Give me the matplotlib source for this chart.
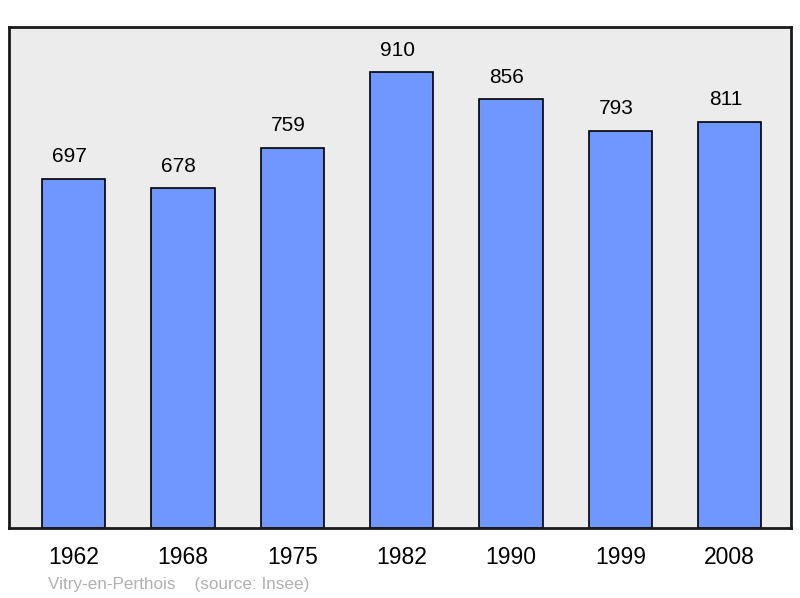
import matplotlib
matplotlib.use("Agg")
import matplotlib.pyplot as plt

# Population data
years = ["1962", "1968", "1975", "1982", "1990", "1999", "2008"]
population = [697, 678, 759, 910, 856, 793, 811]

plt.rcParams['font.family'] = ['Liberation Sans', 'DejaVu Sans']

fig = plt.figure(figsize=(8, 5.98), dpi=100)
# axes box in pixels: x 9..791, y 27..528
ax = fig.add_axes([9 / 800, 1 - 528 / 598, 782 / 800, 501 / 598])
ax.set_facecolor('#ececec')

x = list(range(len(years)))
ax.bar(x, population, width=0.58, color='#7096ff', edgecolor='black', linewidth=1.2, zorder=2)

for xi, val in zip(x, population):
    ax.annotate(str(val), (xi, val), xytext=(-3, 9), textcoords='offset points',
                ha='center', va='bottom', fontsize=15, color='black')

ax.set_xlim(-0.59, 6.56)
ax.set_ylim(0, 1000)
ax.set_yticks([])
ax.set_xticks(x)
ax.set_xticklabels(years, fontsize=16.5)
ax.tick_params(axis='x', length=0, pad=13)

for side in ax.spines.values():
    side.set_linewidth(2)
    side.set_color('#1a1a1a')

fig.text(48 / 800, 1 - 584 / 598, "Vitry-en-Perthois    (source: Insee)",
         fontsize=12.3, color='#b0b0b0', ha='left', va='center')

fig.savefig("out.png", dpi=100)
